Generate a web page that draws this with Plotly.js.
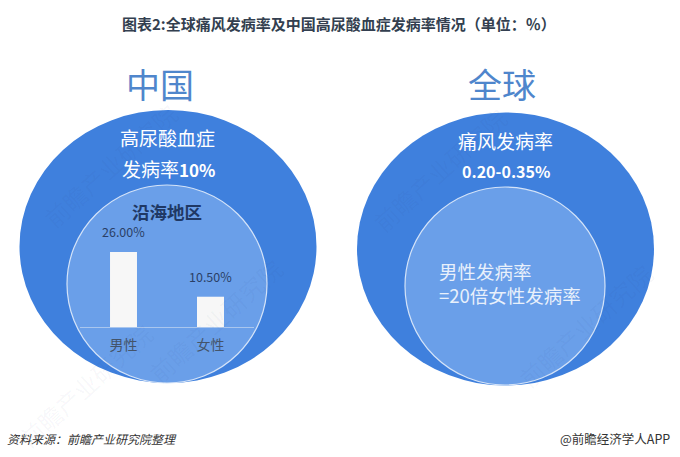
<!DOCTYPE html>
<html><head><meta charset="utf-8">
<script src="https://cdn.plot.ly/plotly-3.0.1.min.js"></script>
<style>html,body{margin:0;padding:0;background:#fff}</style></head>
<body><div id="chart" style="width:680px;height:457px"></div>
<script>
const categories = ["男性", "女性"];
const values = [26.0, 10.5];
const valueLabels = ["26.00%", "10.50%"];
const W = 680, H = 457;
const F = '"Noto Sans CJK SC","Noto Sans",sans-serif';
const px = x => x / W, py = y => 1 - y / H;

function ell(cx, cy, rx, ry, fill, line) {
  return {type: "circle", xref: "paper", yref: "paper", layer: "below",
    x0: px(cx - rx), x1: px(cx + rx), y0: py(cy + ry), y1: py(cy - ry),
    fillcolor: fill, line: line ? {color: line, width: 1.2} : {width: 0}};
}
function txt(x, y, text, size, color, extra) {
  return Object.assign({xref: "paper", yref: "paper", x: px(x), y: py(y), text: text,
    showarrow: false, xanchor: "center", yanchor: "middle",
    font: {family: F, size: size, color: color}}, extra || {});
}
const wmC = "rgba(40,60,110,0.045)";
function mark(x, y) { return txt(x, y, "前瞻产业研究院", 24, wmC, {textangle: -42}); }

const shapes = [
  ell(168, 246.5, 148.5, 136.5, "#3f80dd"),
  ell(167, 284, 100, 99, "#6a9fe9", "#d4e3f8"),
  ell(505.5, 249, 148.5, 136.5, "#3f80dd"),
  ell(505, 286, 100, 99, "#6a9fe9", "#d4e3f8")
];
const barLabels = categories.map((c, i) => ({
  xref: "x", yref: "y", x: c, y: values[i], text: valueLabels[i], showarrow: false,
  xanchor: "center", yanchor: "bottom", yshift: 9,
  font: {family: F, size: 12.5, color: "#2a3f66"}
}));
const annotations = [
  mark(110, 165), mark(215, 320), mark(440, 170), mark(585, 325), mark(85, 385),
  txt(339, 23, "<b>图表2:全球痛风发病率及中国高尿酸血症发病率情况（单位：％）</b>", 15, "#333f50"),
  txt(160, 83, "中国", 34, "#4f86cc"),
  txt(502, 83, "全球", 34, "#4f86cc"),
  txt(167, 137, "高尿酸血症", 19, "#ffffff"),
  txt(168, 169, "<span style='font-size:19px'>发病率</span><b>10%</b>", 17, "#ffffff"),
  txt(167, 211, "<b>沿海地区</b>", 17.5, "#1f3864"),
  txt(505, 140, "痛风发病率", 19, "#ffffff"),
  txt(506, 171, "<b>0.20-0.35%</b>", 16, "#ffffff"),
  txt(437, 271, "男性发病率", 18.5, "#e8f0fb", {xanchor: "left"}),
  txt(437, 295, "=20倍女性发病率", 18.5, "#e8f0fb", {xanchor: "left"}),
  txt(5, 438, "<i>资料来源：前瞻产业研究院整理</i>", 12, "#333333", {xanchor: "left"}),
  txt(672, 438, "@前瞻经济学人APP", 12.5, "#333333", {xanchor: "right"})
].concat(barLabels);

const trace = {type: "bar", x: categories, y: values, width: 0.31,
  marker: {color: "#f7f7f7", line: {width: 0}}, hoverinfo: "skip"};

Plotly.newPlot("chart", [trace], {
  width: W, height: H, margin: {l: 0, r: 0, t: 0, b: 0},
  paper_bgcolor: "#ffffff", plot_bgcolor: "rgba(0,0,0,0)", showlegend: false,
  shapes: shapes, annotations: annotations,
  xaxis: {domain: [px(80), px(254)], anchor: "y", showgrid: false, zeroline: false,
    showline: true, linecolor: "#a9c6ee", linewidth: 1, ticks: "", ticklabelstandoff: 5,
    tickfont: {family: F, size: 14, color: "#44546a"}},
  yaxis: {domain: [py(327), py(240.5)], range: [0, 30], visible: false, fixedrange: true}
}, {displayModeBar: false, staticPlot: true});
</script></body></html>
